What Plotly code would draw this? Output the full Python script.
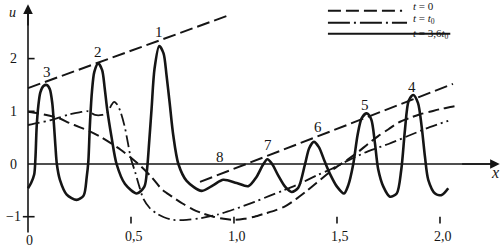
import plotly.graph_objects as go

# ---- data ----
# t = 3.6 t0 (solid): soliton train
x_solid = [0.000, 0.015, 0.030, 0.036, 0.042, 0.050, 0.060, 0.075, 0.091, 0.106, 0.118, 0.126, 0.133, 0.140,
           0.155, 0.188, 0.236, 0.270, 0.285, 0.293, 0.300, 0.310, 0.322, 0.341, 0.360, 0.372, 0.384, 0.406,
           0.430, 0.471, 0.528, 0.565, 0.578, 0.588, 0.600, 0.614, 0.637, 0.658, 0.672, 0.688, 0.705, 0.730,
           0.770, 0.843, 0.900, 0.948, 1.013, 1.069, 1.110, 1.140, 1.162, 1.185, 1.215, 1.248, 1.280, 1.312,
           1.345, 1.365, 1.388, 1.412, 1.440, 1.470, 1.500, 1.534, 1.555, 1.579, 1.600, 1.620, 1.644, 1.666,
           1.684, 1.700, 1.725, 1.757, 1.790, 1.812, 1.830, 1.848, 1.870, 1.893, 1.911, 1.927, 1.943, 1.976,
           2.008, 2.040]
u_solid = [-0.46, -0.36, -0.20, 0.10, 0.70, 1.10, 1.36, 1.48, 1.50, 1.42, 1.15, 0.75, 0.35, 0.00,
           -0.30, -0.58, -0.68, -0.60, -0.25, 0.05, 0.70, 1.35, 1.75, 1.91, 1.78, 1.45, 1.05, 0.50,
           0.00, -0.38, -0.56, -0.43, -0.10, 0.40, 1.05, 1.80, 2.24, 2.10, 1.70, 1.15, 0.55, 0.00,
           -0.32, -0.51, -0.40, -0.30, -0.36, -0.42, -0.24, -0.02, 0.09, 0.00, -0.22, -0.43, -0.53, -0.45,
           0.00, 0.30, 0.42, 0.32, 0.05, -0.22, -0.43, -0.56, -0.40, 0.00, 0.55, 0.87, 0.96, 0.85,
           0.40, -0.10, -0.43, -0.62, -0.56, -0.11, 0.65, 1.20, 1.31, 1.16, 0.71, 0.14, -0.30, -0.56,
           -0.59, -0.46]

# t = 0 (dashed)
x_t0 = [0.00, 0.05, 0.10, 0.15, 0.20, 0.25, 0.30, 0.35, 0.40, 0.45, 0.50, 0.55, 0.60, 0.65, 0.70, 0.75,
        0.80, 0.85, 0.90, 0.95, 1.00, 1.05, 1.10, 1.15, 1.20, 1.25, 1.30, 1.35, 1.40, 1.45, 1.50, 1.55,
        1.60, 1.65, 1.70, 1.75, 1.80, 1.85, 1.90, 1.95, 2.00, 2.05, 2.08]
u_t0 = [0.99, 0.96, 0.92, 0.87, 0.78, 0.70, 0.62, 0.52, 0.40, 0.27, 0.12, -0.05, -0.25, -0.48, -0.62, -0.75,
        -0.86, -0.94, -1.00, -1.04, -1.06, -1.04, -1.00, -0.94, -0.88, -0.80, -0.67, -0.52, -0.36, -0.20, -0.05, 0.08,
        0.22, 0.38, 0.53, 0.66, 0.79, 0.87, 0.94, 0.99, 1.04, 1.08, 1.10]

# t = t0 (dash-dot)
x_tb = [0.00, 0.05, 0.107, 0.15, 0.20, 0.25, 0.293, 0.325, 0.36, 0.385, 0.405, 0.418, 0.435, 0.45, 0.47,
        0.485, 0.50, 0.52, 0.54, 0.56, 0.59, 0.625, 0.66, 0.705, 0.77, 0.835, 0.92, 1.00, 1.10, 1.175,
        1.24, 1.32, 1.40, 1.47, 1.55, 1.65, 1.75, 1.85, 1.95, 2.04]
u_tb = [0.74, 0.78, 0.83, 0.88, 0.94, 0.98, 1.00, 0.93, 0.93, 0.97, 1.12, 1.18, 1.12, 0.98, 0.70,
        0.40, 0.10, -0.15, -0.42, -0.66, -0.83, -0.94, -1.01, -1.06, -1.06, -1.03, -0.96, -0.86, -0.72, -0.60,
        -0.50, -0.37, -0.22, -0.10, 0.06, 0.24, 0.38, 0.54, 0.70, 0.82]

# dashed envelope lines through soliton peaks
env1_x = [0.0, 0.966]
env1_u = [1.44, 2.81]
env2_x = [0.835, 2.063]
env2_u = [-0.34, 1.52]

# soliton numbers and their positions
peak_labels = ["1", "2", "3", "4", "5", "6", "7", "8"]
peak_lx = [0.636, 0.340, 0.092, 1.864, 1.636, 1.408, 1.165, 0.932]
peak_lu = [2.50, 2.13, 1.75, 1.46, 1.12, 0.70, 0.36, 0.13]

x_ticks = [0.5, 1.0, 1.5, 2.0]
x_tick_text = ["0,5", "1,0", "1,5", "2,0"]
y_ticks = [2, 1, 0, -1]
y_tick_text = ["2", "1", "0", "−1"]

legend_text = ["<i>t</i> = 0", "<i>t</i> = <i>t</i><sub>0</sub>", "<i>t</i> = 3,6<i>t</i><sub>0</sub>"]

# ---- figure ----
INK = "#151515"
DASH = "11px,5px"
DASHDOT = "12px,4px,2px,4px"
FONT = "Liberation Serif, DejaVu Serif, serif"

fig = go.Figure()

fig.add_trace(go.Scatter(x=x_t0, y=u_t0, mode="lines",
                         line=dict(color=INK, width=2, dash=DASH, shape="spline", smoothing=0.8)))
fig.add_trace(go.Scatter(x=x_tb, y=u_tb, mode="lines",
                         line=dict(color=INK, width=1.8, dash=DASHDOT, shape="spline", smoothing=0.8)))
fig.add_trace(go.Scatter(x=env1_x, y=env1_u, mode="lines",
                         line=dict(color=INK, width=2, dash="13px,5px")))
fig.add_trace(go.Scatter(x=env2_x, y=env2_u, mode="lines",
                         line=dict(color=INK, width=2, dash="13px,5px")))
fig.add_trace(go.Scatter(x=x_solid, y=u_solid, mode="lines",
                         line=dict(color=INK, width=2.6, shape="spline", smoothing=0.8)))

# legend samples
leg_x0 = 1.456
leg_rows_u = [2.91, 2.68, 2.47]
leg_x1 = [1.816, 1.840, 2.050]
leg_dash = ["13px,5px", "22px,4px,2px,4px", "solid"]
for u, x1, d in zip(leg_rows_u, leg_x1, leg_dash):
    fig.add_trace(go.Scatter(x=[leg_x0, x1], y=[u, u], mode="lines",
                             line=dict(color=INK, width=2, dash=d)))
for u, txt in zip([3.00, 2.75, 2.47], legend_text):
    fig.add_annotation(x=1.860, y=u, text=txt, showarrow=False, xanchor="left", yanchor="middle",
                       font=dict(family=FONT, size=11, color=INK))

# axes
shapes = []
shapes.append(dict(type="line", x0=0, x1=0, y0=-1.30, y1=2.95, line=dict(color=INK, width=1.6)))
shapes.append(dict(type="line", x0=0, x1=2.26, y0=0, y1=0, line=dict(color=INK, width=1.6)))
for yt in y_ticks:
    if yt == 0:
        continue
    x_left = -0.025 if yt == -1 else 0.0
    shapes.append(dict(type="line", x0=x_left, x1=0.032, y0=yt, y1=yt, line=dict(color=INK, width=1.6)))
for xt in x_ticks:
    shapes.append(dict(type="line", x0=xt, x1=xt, y0=-1.0, y1=-1.13, line=dict(color=INK, width=1.6)))
fig.update_layout(shapes=shapes)

# arrow heads
fig.add_annotation(x=0, y=3.03, ax=0, ay=2.6, axref="x", ayref="y", xref="x", yref="y",
                   text="", showarrow=True, arrowhead=2, arrowsize=1.2, arrowwidth=1.6, arrowcolor=INK)
fig.add_annotation(x=2.29, y=0, ax=2.1, ay=0, axref="x", ayref="y", xref="x", yref="y",
                   text="", showarrow=True, arrowhead=2, arrowsize=1.2, arrowwidth=1.6, arrowcolor=INK)

# tick labels
for xt, t in zip(x_ticks, x_tick_text):
    fig.add_annotation(x=xt + 0.015, y=-1.37, text=t, showarrow=False,
                       font=dict(family=FONT, size=14, color=INK))
fig.add_annotation(x=0.005, y=-1.45, text="0", showarrow=False,
                   font=dict(family=FONT, size=14, color=INK))
for yt, t in zip(y_ticks, y_tick_text):
    fig.add_annotation(x=-0.07, y=yt, text=t, showarrow=False,
                       font=dict(family=FONT, size=14, color=INK))

# axis names
fig.add_annotation(x=-0.075, y=2.88, text="<i>u</i>", showarrow=False,
                   font=dict(family=FONT, size=14, color=INK))
fig.add_annotation(x=2.268, y=-0.16, text="<i>x</i>", showarrow=False,
                   font=dict(family=FONT, size=16, color=INK))

# soliton numbers
for t, lx, lu in zip(peak_labels, peak_lx, peak_lu):
    fig.add_annotation(x=lx, y=lu, text=t, showarrow=False,
                       font=dict(family=FONT, size=15, color=INK))

fig.update_layout(
    width=500, height=247, autosize=False,
    margin=dict(l=0, r=0, t=0, b=0),
    paper_bgcolor="white", plot_bgcolor="white",
    showlegend=False,
    xaxis=dict(range=[-0.1359, 2.2913], visible=False, fixedrange=True),
    yaxis=dict(range=[-1.575, 3.112], visible=False, fixedrange=True),
)

fig.write_html("out.html")
